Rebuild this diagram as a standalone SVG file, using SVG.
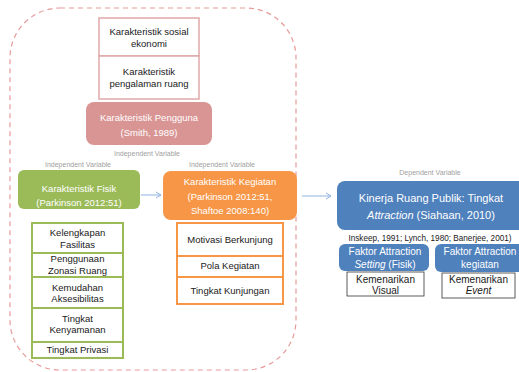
<svg xmlns="http://www.w3.org/2000/svg" width="519" height="372" viewBox="0 0 519 372">
<style>
text{font-family:"Liberation Sans",Arial,sans-serif;text-anchor:middle}
.t{font-size:9.5px;fill:#1a1a1a}
.w{font-size:9.5px;fill:#fff}
.lbl{font-size:7px;fill:#a0a0a0}
.pinkb{fill:#fff;stroke:#e0a8a8;stroke-width:1.5}
.grnb{fill:#fff;stroke:#9bbb59;stroke-width:2}
.orgb{fill:#fff;stroke:#f79646;stroke-width:2}
.blkb{fill:#fff;stroke:#333;stroke-width:0.8}
.conn{stroke:#8fb2de;stroke-width:1;fill:none}
</style>
<defs>
<marker id="ah" markerWidth="8" markerHeight="8" refX="6" refY="4" orient="auto" markerUnits="userSpaceOnUse">
<path d="M1,1 L6,4 L1,7" fill="none" stroke="#8fb2de" stroke-width="1"/>
</marker>
</defs>
<rect x="10" y="8" width="286" height="362" rx="50" ry="50" fill="none" stroke="#e89a9a" stroke-width="1.2" stroke-dasharray="5,4"/>

<g id="pengguna-sub">
<rect class="pinkb" x="99" y="18" width="100" height="38"/>
<text class="t" x="149" y="34.5">Karakteristik  sosial</text>
<text class="t" x="149" y="46.5">ekonomi</text>
<rect class="pinkb" x="99" y="56" width="100" height="43"/>
<text class="t" x="149" y="75">Karakteristik</text>
<text class="t" x="149" y="87">pengalaman ruang</text>
</g>
<g id="pengguna">
<rect x="86" y="102" width="126" height="43" rx="8" fill="#d99594"/>
<text class="w" x="149" y="120.5">Karakteristik Pengguna</text>
<text class="w" x="149" y="135.5">(Smith, 1989)</text>
<text class="lbl" x="147" y="155.5">Independent Variable</text>
</g>

<g id="fisik">
<text class="lbl" x="78" y="166.5">Independent Variable</text>
<rect x="18" y="170" width="122" height="39" rx="6" fill="#9bbb59"/>
<text class="w" x="79" y="192">Karakteristik Fisik</text>
<text class="w" x="79" y="206">(Parkinson 2012:51)</text>
</g>
<g id="fisik-sub">
<rect class="grnb" x="32" y="223" width="91" height="30"/>
<text class="t" x="77.5" y="236">Kelengkapan</text>
<text class="t" x="77.5" y="248">Fasilitas</text>
<rect class="grnb" x="32" y="253" width="91" height="24"/>
<text class="t" x="77.5" y="262">Penggunaan</text>
<text class="t" x="77.5" y="274">Zonasi Ruang</text>
<rect class="grnb" x="32" y="277" width="91" height="31"/>
<text class="t" x="77.5" y="291">Kemudahan</text>
<text class="t" x="77.5" y="302">Aksesibilitas</text>
<rect class="grnb" x="32" y="308" width="91" height="34"/>
<text class="t" x="77.5" y="322">Tingkat</text>
<text class="t" x="77.5" y="333">Kenyamanan</text>
<rect class="grnb" x="32" y="342" width="91" height="16"/>
<text class="t" x="77.5" y="352.5">Tingkat Privasi</text>
</g>

<g id="kegiatan">
<text class="lbl" x="222" y="166.5">Independent Variable</text>
<rect x="163" y="171" width="134" height="49" rx="8" fill="#f79646"/>
<text class="w" x="230" y="185">Karakteristik Kegiatan</text>
<text class="w" x="230" y="200">(Parkinson 2012:51,</text>
<text class="w" x="230" y="214">Shaftoe 2008:140)</text>
</g>
<g id="kegiatan-sub">
<rect class="orgb" x="177" y="223" width="106" height="33"/>
<text class="t" x="230" y="242.5">Motivasi Berkunjung</text>
<rect class="orgb" x="177" y="256" width="106" height="21"/>
<text class="t" x="230" y="268.5">Pola Kegiatan</text>
<rect class="orgb" x="177" y="277" width="106" height="27"/>
<text class="t" x="230" y="293.5">Tingkat Kunjungan</text>
</g>

<g id="kinerja">
<text class="lbl" x="430" y="174.5">Dependent Variable</text>
<rect x="337" y="181" width="190" height="49" rx="8" fill="#4f81bd"/>
<text x="431" y="202" style="font-size:11px;fill:#fff">Kinerja Ruang Publik: Tingkat</text>
<text x="431" y="219" style="font-size:11px;fill:#fff"><tspan font-style="italic">Attraction</tspan> (Siahaan, 2010)</text>
<text x="430" y="240.5" style="font-size:8.2px;fill:#1a1a1a">Inskeep, 1991; Lynch, 1980; Banerjee, 2001)</text>
</g>
<g id="faktor-setting">
<rect x="339" y="244" width="90" height="27" rx="6" fill="#4f81bd"/>
<text x="385" y="255" style="font-size:10px;fill:#fff">Faktor Attraction</text>
<text x="385" y="268" style="font-size:10px;fill:#fff"><tspan font-style="italic">Setting</tspan> (Fisik)</text>
<rect class="blkb" x="347" y="272" width="77" height="24"/>
<text class="t" x="385.5" y="282.5" style="font-size:10px">Kemenarikan</text>
<text class="t" x="385.5" y="293.5" style="font-size:10px">Visual</text>
</g>
<g id="faktor-kegiatan">
<rect x="435" y="244" width="90" height="28" rx="6" fill="#4f81bd"/>
<text x="480" y="255" style="font-size:10px;fill:#fff">Faktor Attraction</text>
<text x="480" y="268" style="font-size:10px;fill:#fff">kegiatan</text>
<rect class="blkb" x="442" y="273" width="73" height="25"/>
<text class="t" x="478.5" y="283" style="font-size:10px">Kemenarikan</text>
<text class="t" x="478.5" y="294" style="font-size:10px;font-style:italic">Event</text>
</g>

<g id="connectors">
<line class="conn" x1="141" y1="195" x2="161" y2="195" marker-end="url(#ah)"/>
<line class="conn" x1="302" y1="196" x2="331" y2="196" marker-end="url(#ah)"/>
</g>
</svg>
